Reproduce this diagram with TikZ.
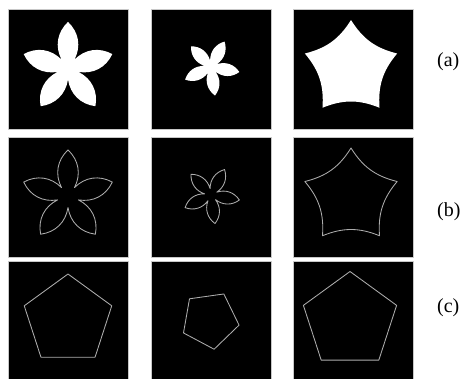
\documentclass[tikz,border=0pt]{standalone}
\usepackage{fontspec}
\setmainfont{Liberation Serif}
\tikzset{
  cell/.style={fill=black,draw=black!22,line width=0.9pt},
  blob/.style={fill=white},
  rim/.style={draw=black!32,line width=0.85pt},
  tag/.style={anchor=west,inner sep=0pt,font=\fontsize{20}{24}\selectfont}
}

\begin{document}
\begin{tikzpicture}[x=1pt,y=1pt,line cap=round,line join=round]
  \useasboundingbox (0,0) rectangle (468,-378);
  \clip (0,0) rectangle (468,-378);
  \foreach \cx in {8,151,293}{
    \foreach \cy in {9,137,261}{
      \path[cell] (\cx,-\cy) rectangle ++(120,-120);
    }
  }
  % rows (a) and (b): filled shapes, then their outlines
  \foreach \ry/\look in {68.5/blob,196.5/rim}{
    \begin{scope}[shift={(68,-\ry)}]
      \path[\look] (54:11) \foreach \k in {0,...,4}{
        to[bend right=37] ({90+72*\k}:46.6) to[bend right=37] ({126+72*\k}:11)} -- cycle;
    \end{scope}
    \begin{scope}[shift={(211,-\ry+1.5)}]
      \path[\look] (26:6.5) \foreach \k in {0,...,4}{
        to[bend right=37] ({62+72*\k}:28.8) to[bend right=37] ({98+72*\k}:6.5)} -- cycle;
    \end{scope}
    \begin{scope}[shift={(351,-\ry)}]
      \path[\look] (90:48.5) \foreach \k in {1,...,5}{
        to[bend left=22] ({90+72*\k}:48.5)} -- cycle;
    \end{scope}
  }
  % row (c): straight pentagons through the tips
  \draw[rim,shift={(68,-320)}] (90:46) \foreach \k in {1,...,4}{-- ({90+72*\k}:46)} -- cycle;
  \draw[rim,shift={(210,-320)}] (62:29.5) \foreach \k in {1,...,4}{-- ({62+72*\k}:29.5)} -- cycle;
  \draw[rim,shift={(350,-320.5)}] (90:49) \foreach \k in {1,...,4}{-- ({90+72*\k}:49)} -- cycle;
  \node[tag] (la) at (437,-62) {(a)};
  \node[tag] (lb) at (437,-212) {(b)};
  \node[tag] (lc) at (437,-308) {(c)};
\end{tikzpicture}
\end{document}
